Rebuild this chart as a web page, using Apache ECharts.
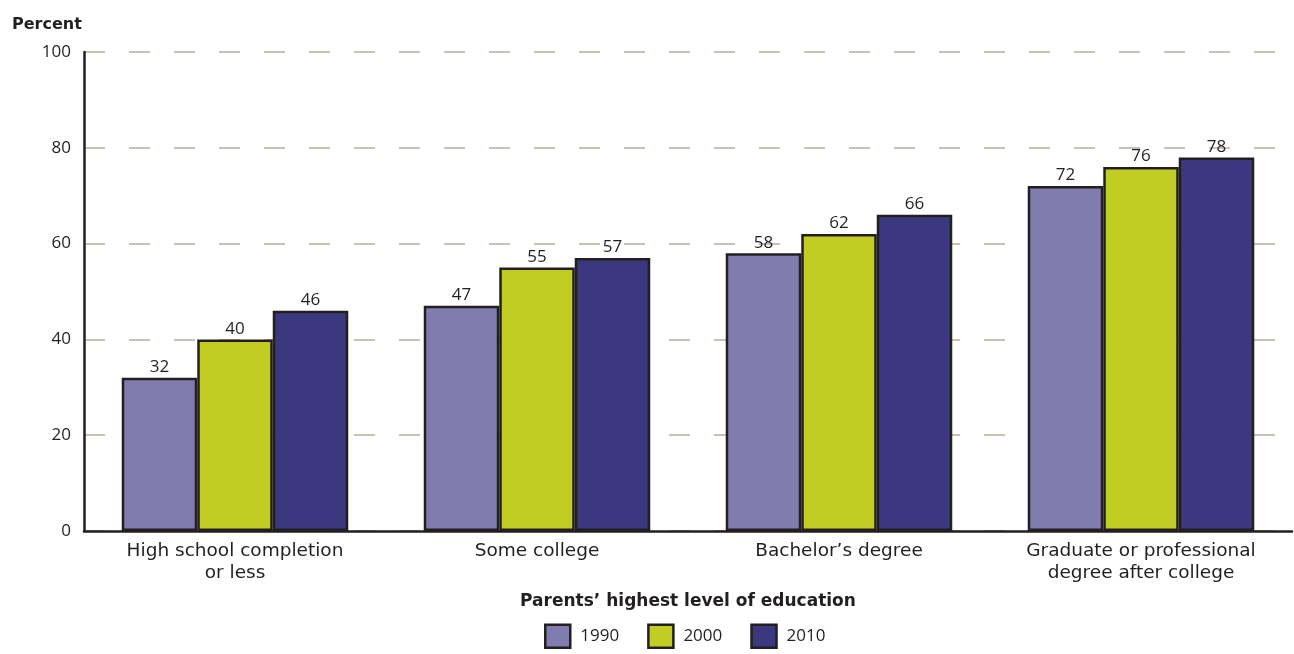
<!DOCTYPE html>
<html><head><meta charset="utf-8">
<script src="https://cdn.jsdelivr.net/npm/echarts@6/dist/echarts.min.js"></script>
<style>html,body{margin:0;padding:0;background:#fff}#c{width:1294px;height:654px}</style>
</head><body><div id="c"></div>
<script>
const categories = ['High school completion\nor less', 'Some college', 'Bachelor\u2019s degree', 'Graduate or professional\ndegree after college'];
const years = ['1990', '2000', '2010'];
const v1990 = [32, 47, 58, 72];
const v2000 = [40, 55, 62, 76];
const v2010 = [46, 57, 66, 78];
const colors = ['#807dae', '#c2cd23', '#3b3880'];
const FONT = '"Open Sans", Lato, sans-serif';
const WFONT = '"DejaVu Sans", "Open Sans", sans-serif';
const INK = '#231f20';
const chart = echarts.init(document.getElementById('c'));
const mk = (name, data, color) => ({
  name, type: 'bar', data, barGap: '0%', barCategoryGap: '25%',
  itemStyle: {color, borderColor: INK, borderWidth: 2.5},
  label: {show: true, position: 'top', distance: 2, color: INK, fontSize: 17, fontFamily: FONT},
  emphasis: {disabled: true}
});
chart.setOption({
  animation: false,
  textStyle: {fontFamily: FONT},
  grid: {left: 84, right: 2, top: 52, bottom: 123, containLabel: false},
  title: {text: 'Percent', left: 7, top: 12, textStyle: {fontSize: 16, fontWeight: 'bold', color: INK, fontFamily: WFONT}},
  legend: {
    bottom: 0, left: 539, itemWidth: 25, itemHeight: 23, itemGap: 28, icon: 'rect',
    data: years,
    textStyle: {fontSize: 17, color: INK, fontFamily: FONT, padding: [0, 0, 0, 5]},
    itemStyle: {borderColor: INK, borderWidth: 2.5}
  },
  xAxis: {
    type: 'category', data: categories,
    name: 'Parents\u2019 highest level of education', nameLocation: 'middle', nameGap: 62,
    nameTextStyle: {fontSize: 17, fontWeight: 'bold', color: INK, fontFamily: WFONT},
    axisLine: {lineStyle: {color: INK, width: 2.5}},
    axisTick: {show: false},
    axisLabel: {fontSize: 18.5, color: INK, lineHeight: 22, margin: 9, fontFamily: WFONT},
  },
  yAxis: {
    type: 'value', min: 0, max: 100, interval: 20,
    axisLine: {show: true, lineStyle: {color: INK, width: 2.5}},
    axisTick: {show: false},
    axisLabel: {fontSize: 17, color: INK, margin: 13, fontFamily: FONT},
    splitLine: {lineStyle: {color: '#c8c2b4', width: 2, type: [21, 24]}}
  },
  series: [mk(years[0], v1990, colors[0]), mk(years[1], v2000, colors[1]), mk(years[2], v2010, colors[2])]
});
</script></body></html>
